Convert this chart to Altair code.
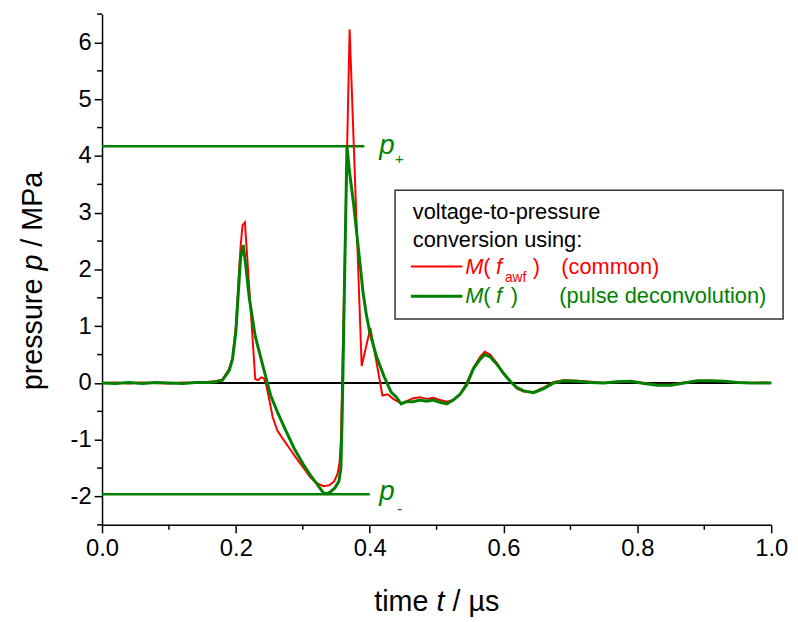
import altair as alt
import pandas as pd

FONT = "Liberation Sans"
RED = "#ff0000"
GREEN = "#008000"

# ---- data: red curve, conversion with M(f_awf) (common)
red_t = [0.0, 0.02, 0.04, 0.06, 0.08, 0.10, 0.12, 0.14, 0.16, 0.17, 0.18, 0.19, 0.195, 0.20, 0.203,
         0.207, 0.21, 0.2135, 0.229, 0.233, 0.238, 0.242, 0.245, 0.25, 0.255, 0.262, 0.27, 0.28,
         0.29, 0.30, 0.311, 0.32, 0.331, 0.34, 0.347, 0.352, 0.355, 0.357, 0.370, 0.388, 0.401,
         0.419, 0.427, 0.435, 0.447, 0.455, 0.465, 0.475, 0.485, 0.495, 0.505, 0.515, 0.525, 0.535,
         0.545, 0.555, 0.565, 0.572, 0.58, 0.59, 0.60, 0.61, 0.62, 0.63, 0.645, 0.66, 0.675, 0.69,
         0.71, 0.73, 0.75, 0.77, 0.79, 0.81, 0.83, 0.85, 0.87, 0.89, 0.91, 0.93, 0.95, 0.97, 0.99, 1.0]
red_p = [0.0, 0.01, -0.01, 0.01, 0.0, -0.01, 0.01, 0.0, 0.02, 0.03, 0.06, 0.25, 0.45, 1.0, 1.6,
         2.4, 2.78, 2.83, 0.07, 0.05, 0.1, 0.08, -0.02, -0.3, -0.6, -0.84, -0.98, -1.15,
         -1.32, -1.48, -1.66, -1.76, -1.82, -1.8, -1.73, -1.6, -1.4, -1.0, 6.23, 0.3, 0.97,
         -0.22, -0.2, -0.28, -0.36, -0.32, -0.27, -0.25, -0.28, -0.26, -0.3, -0.33, -0.3, -0.2,
         0.0, 0.27, 0.46, 0.55, 0.5, 0.35, 0.16, 0.03, -0.1, -0.15, -0.16, -0.08, 0.02, 0.05,
         0.04, 0.02, 0.0, 0.02, 0.03, 0.0, -0.03, -0.03, 0.01, 0.04, 0.04, 0.03, 0.01, 0.0, 0.01, 0.0]

# ---- data: green curve, conversion with M(f) (pulse deconvolution)
green_t = [0.0, 0.02, 0.04, 0.06, 0.08, 0.10, 0.12, 0.14, 0.16, 0.17, 0.18, 0.19, 0.195, 0.20, 0.203,
           0.207, 0.211, 0.215, 0.22, 0.229, 0.235, 0.24, 0.247, 0.252, 0.262, 0.275, 0.287, 0.30,
           0.311, 0.32, 0.331, 0.337, 0.341, 0.348, 0.354, 0.357, 0.359, 0.366, 0.370, 0.376, 0.385,
           0.39, 0.395, 0.40, 0.41, 0.422, 0.432, 0.44, 0.447, 0.455, 0.465, 0.475, 0.485, 0.495,
           0.505, 0.515, 0.525, 0.535, 0.545, 0.555, 0.565, 0.572, 0.58, 0.59, 0.60, 0.61, 0.62,
           0.63, 0.645, 0.66, 0.675, 0.69, 0.71, 0.73, 0.75, 0.77, 0.79, 0.81, 0.83, 0.85, 0.87,
           0.89, 0.91, 0.93, 0.95, 0.97, 0.99, 1.0]
green_p = [0.0, -0.01, 0.01, -0.01, 0.01, 0.0, -0.01, 0.01, 0.01, 0.02, 0.05, 0.22, 0.42, 0.9, 1.47,
           2.2, 2.43, 2.05, 1.5, 0.82, 0.55, 0.32, 0.0, -0.22, -0.51, -0.85, -1.15, -1.42,
           -1.62, -1.76, -1.94, -1.95, -1.92, -1.85, -1.73, -1.5, -0.5, 4.17, 3.7, 3.15, 2.16,
           1.6, 1.2, 0.9, 0.47, 0.1, -0.16, -0.25, -0.37, -0.33, -0.33, -0.3, -0.32, -0.3,
           -0.34, -0.37, -0.3, -0.2, -0.03, 0.25, 0.42, 0.5, 0.46, 0.33, 0.17, 0.03, -0.08,
           -0.14, -0.17, -0.1, 0.0, 0.04, 0.03, 0.01, 0.0, 0.02, 0.03, -0.01, -0.04, -0.04, 0.0,
           0.04, 0.04, 0.03, 0.01, 0.0, 0.0, 0.0]

# peak marker levels
p_plus = 4.17
p_minus = -1.96
p_plus_end = 0.392
p_minus_end = 0.40

x_major = [0.0, 0.2, 0.4, 0.6, 0.8, 1.0]
x_minor = [0.1, 0.3, 0.5, 0.7, 0.9]
y_major = [-2, -1, 0, 1, 2, 3, 4, 5, 6]
y_minor = [-2.5, -1.5, -0.5, 0.5, 1.5, 2.5, 3.5, 4.5, 5.5, 6.5]

W, H = 676, 516

xscale = alt.Scale(domain=[0, 1], nice=False, zero=False)
yscale = alt.Scale(domain=[-2.5, 6.5], nice=False, zero=False)
xaxis = alt.Axis(values=x_major, format=".1f", title=None, grid=False, tickSize=8, tickWidth=1.5,
                 tickColor="black", domainColor="black", domainWidth=1.5, labelFont=FONT,
                 labelFontSize=24, labelColor="black", labelPadding=4, labelFlush=False,
                 labelOverlap=False)
yaxis = alt.Axis(values=y_major, title=None, grid=False, tickSize=8, tickWidth=1.5,
                 tickColor="black", domainColor="black", domainWidth=1.5, labelFont=FONT,
                 labelFontSize=24, labelColor="black", labelPadding=3,
                 labelExpr="datum.value < 0 ? '-' + abs(datum.value) : '' + datum.value")


def X(f):
    return alt.X(f, type="quantitative", scale=xscale, axis=xaxis)


def Y(f):
    return alt.Y(f, type="quantitative", scale=yscale, axis=yaxis)


red_df = pd.DataFrame({"t": red_t, "p": red_p})
green_df = pd.DataFrame({"t": green_t, "p": green_p})
zero_df = pd.DataFrame({"t": [0.0, 1.0], "p": [0.0, 0.0]})
pplus_df = pd.DataFrame({"t": [0.0, p_plus_end], "p": [p_plus, p_plus]})
pminus_df = pd.DataFrame({"t": [0.0, p_minus_end], "p": [p_minus, p_minus]})

zero = alt.Chart(zero_df).mark_line(color="black", strokeWidth=2).encode(x=X("t"), y=Y("p"))
pplus = alt.Chart(pplus_df).mark_line(color=GREEN, strokeWidth=2.5).encode(x=X("t"), y=Y("p"))
pminus = alt.Chart(pminus_df).mark_line(color=GREEN, strokeWidth=2.5).encode(x=X("t"), y=Y("p"))
red = alt.Chart(red_df).mark_line(color=RED, strokeWidth=2).encode(x=X("t"), y=Y("p"), order="t:Q")
green = alt.Chart(green_df).mark_line(color=GREEN, strokeWidth=3).encode(x=X("t"), y=Y("p"), order="t:Q")

xminor = alt.Chart(pd.DataFrame({"t": x_minor})).mark_rule(color="black", strokeWidth=1.5).encode(
    x=X("t"), y=alt.value(H), y2=alt.value(H + 5))
yminor = alt.Chart(pd.DataFrame({"p": y_minor})).mark_rule(color="black", strokeWidth=1.5).encode(
    y=Y("p"), x=alt.value(-5), x2=alt.value(0))

one = pd.DataFrame({"a": [0]})


def txt(s, x, y, size=22, color="black", style="normal", angle=0, align="left"):
    return alt.Chart(one).mark_text(text=s, font=FONT, fontSize=size, color=color, fontStyle=style,
                                    align=align, baseline="alphabetic", angle=angle).encode(
        x=alt.value(x), y=alt.value(y))


# legend box
box = alt.Chart(one).mark_rect(fill="white", stroke="#333333", strokeWidth=1.5).encode(
    x=alt.value(296), x2=alt.value(688), y=alt.value(178), y2=alt.value(308))
leg_red_line = alt.Chart(one).mark_rule(color=RED, strokeWidth=2).encode(
    x=alt.value(312), x2=alt.value(364), y=alt.value(255))
leg_green_line = alt.Chart(one).mark_rule(color=GREEN, strokeWidth=3).encode(
    x=alt.value(312), x2=alt.value(364), y=alt.value(285))

texts = [
    txt("voltage-to-pressure", 314, 207),
    txt("conversion using:", 314, 235),
    txt("M", 367, 263, color=RED, style="italic"),
    txt("(", 385, 263, color=RED),
    txt("f", 398, 263, color=RED, style="italic"),
    txt("awf", 407, 271, size=14, color=RED),
    txt(")", 435, 263, color=RED),
    txt("(common)", 464, 263, color=RED),
    txt("M", 367, 292, color=GREEN, style="italic"),
    txt("(", 385, 292, color=GREEN),
    txt("f", 398, 292, color=GREEN, style="italic"),
    txt(")", 413, 292, color=GREEN),
    txt("(pulse deconvolution)", 462, 292, color=GREEN),
    # p+ / p- labels
    txt("p", 280, 141, size=28, color=GREEN, style="italic"),
    txt("+", 296, 151, size=15, color=GREEN),
    txt("p", 280, 491, size=28, color=GREEN, style="italic"),
    txt("-", 298, 505, size=16, color=GREEN),
    # axis titles
    txt("time", 275, 603, size=29),
    txt("t", 338, 603, size=29, style="italic"),
    txt("/ µs", 354, 603, size=29),
    txt("pressure", -61, 380, size=29, angle=270),
    txt("p", -61, 259, size=29, angle=270, style="italic"),
    txt("/ MPa", -61, 235, size=29, angle=270),
]

chart = alt.layer(zero, pplus, pminus, red, green, xminor, yminor, box, leg_red_line,
                  leg_green_line, *texts).properties(
    width=W, height=H,
    autosize=alt.AutoSizeParams(type="none"),
    padding={"left": 95, "top": 3, "right": 19, "bottom": 95},
).configure_view(stroke="transparent")

chart.save("out.html", embed_options={"renderer": "svg", "actions": False})
